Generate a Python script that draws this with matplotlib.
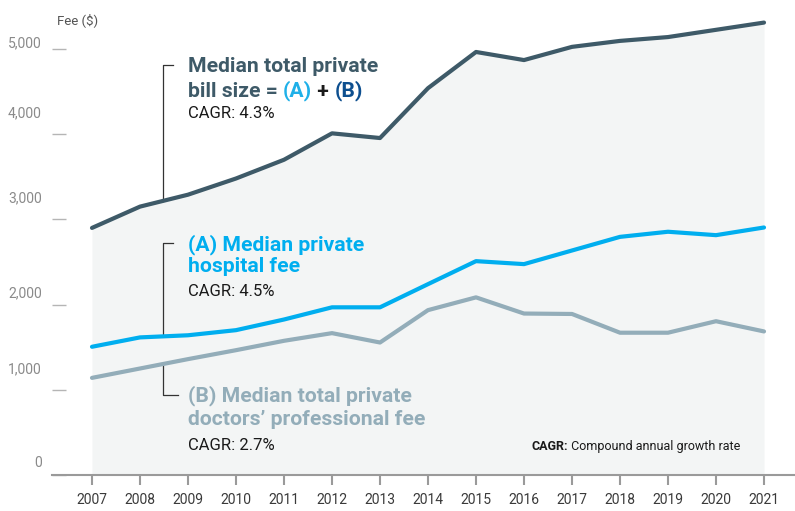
import numpy as np
import matplotlib
matplotlib.use("Agg")
import matplotlib.pyplot as plt

years = list(range(2007, 2022))
total_bill = [2900, 3150, 3290, 3480, 3700, 4010, 3955, 4540, 4965, 4870, 5025, 5095, 5140, 5225, 5310]
hospital_fee = [1505, 1615, 1640, 1700, 1825, 1968, 1968, 2240, 2510, 2475, 2635, 2795, 2855, 2815, 2905]
doctor_fee = [1140, 1250, 1360, 1465, 1575, 1665, 1555, 1935, 2085, 1895, 1890, 1670, 1670, 1805, 1685]
ytick_values = [0, 1000, 2000, 3000, 4000, 5000]
ytick_labels = ["0", "1,000", "2,000", "3,000", "4,000", "5,000"]

dark = "#3e5a68"
cyan = "#00aeef"
grey_blue = "#93adb9"
navy = "#0d4f8f"

plt.rcParams["font.family"] = ["Roboto", "DejaVu Sans"]

fig = plt.figure(figsize=(7.95, 5.11), dpi=100)
ax = fig.add_axes([52 / 795, 36 / 511, 743 / 795, 475 / 511])
ax.set_xlim(2007 - 40 / 48, 2007 + 703 / 48)
ax.set_ylim(0, 5575)

ax.fill_between(years, 0, total_bill, color="#f3f5f5", lw=0, zorder=0)
ax.plot(years, total_bill, color=dark, lw=3, solid_joinstyle="round", solid_capstyle="round", zorder=3)
ax.plot(years, hospital_fee, color=cyan, lw=3, solid_joinstyle="round", solid_capstyle="round", zorder=3)
ax.plot(years, doctor_fee, color=grey_blue, lw=3, solid_joinstyle="round", solid_capstyle="round", zorder=3)

for s in ["left", "right", "top"]:
    ax.spines[s].set_visible(False)
ax.spines["bottom"].set_color("#9a9a9a")
ax.spines["bottom"].set_linewidth(1.5)

ax.set_xticks(years)
ax.set_xticklabels([str(y) for y in years], fontsize=10, color="#3a3a3a")
ax.tick_params(axis="x", direction="out", length=7, width=1.5, color="#9a9a9a", pad=6)

ax.set_yticks(ytick_values)
ax.set_yticklabels([])
ax.tick_params(axis="y", direction="in", length=10, width=1, color="#b5b5b5")
# the tick labels in the original sit above their dashes
label_shift = [12, 21, 11, 21, 21, 6]
for v, lab, sh in zip(ytick_values, ytick_labels, label_shift):
    ax.annotate(lab, xy=(-10 / 743, v), xycoords=("axes fraction", "data"),
                xytext=(0, sh * 0.72), textcoords="offset points",
                ha="right", va="center", fontsize=10, color="#8a8a8a")

ax.text(5 / 743, 5340, "Fee ($)", fontsize=9.5, color="#555555", va="center",
        transform=ax.get_yaxis_transform())


def multi_text(x, y, pieces, **kw):
    t = ax.text(x, y, pieces[0][0], color=pieces[0][1], va="baseline", **kw)
    for txt, col in pieces[1:]:
        t = ax.annotate(txt, xy=(1, 0), xycoords=t, va="bottom", color=col, **kw)
    return t


bx = 2008.48
tx = 2009.0
bold = dict(fontsize=15.2, fontweight="bold")
small = dict(fontsize=12, color="#1a1a1a", va="baseline")

# total bill label
ax.text(tx, 4734, "Median total private", color=dark, va="baseline", **bold)
multi_text(tx, 4440, [("bill size = ", dark), ("(A)", "#1fb0e8"), (" + ", "#1a1a1a"), ("(B)", navy)], **bold)
ax.text(tx, 4186, "CAGR: 4.3%", **small)
ax.plot([bx + 0.21, bx, bx], [4812, 4812, np.interp(bx, years, total_bill)], color="#333333", lw=0.9, zorder=2)

# hospital fee label
ax.text(tx, 2641, "(A) Median private", color=cyan, va="baseline", **bold)
ax.text(tx, 2386, "hospital fee", color=cyan, va="baseline", **bold)
ax.text(tx, 2104, "CAGR: 4.5%", **small)
ax.plot([bx + 0.21, bx, bx], [2723, 2723, np.interp(bx, years, hospital_fee)], color="#333333", lw=0.9, zorder=2)

# doctors fee label
ax.text(tx, 860, "(B) Median total private", color=grey_blue, va="baseline", **bold)
ax.text(tx, 587, "doctors\u2019 professional fee", color=grey_blue, va="baseline", **bold)
ax.text(tx, 293, "CAGR: 2.7%", **small)
ax.plot([bx, bx, bx + 0.31], [np.interp(bx, years, doctor_fee), 939, 939], color="#333333", lw=0.9, zorder=2)

foot = ax.text(2016.16, 293, "CAGR:", fontsize=9, fontweight="bold", color="#1a1a1a", va="baseline")
ax.annotate(" Compound annual growth rate", xy=(1, 0), xycoords=foot, va="bottom",
            fontsize=9, color="#1a1a1a")

fig.savefig("out.png", dpi=100, facecolor="white")
